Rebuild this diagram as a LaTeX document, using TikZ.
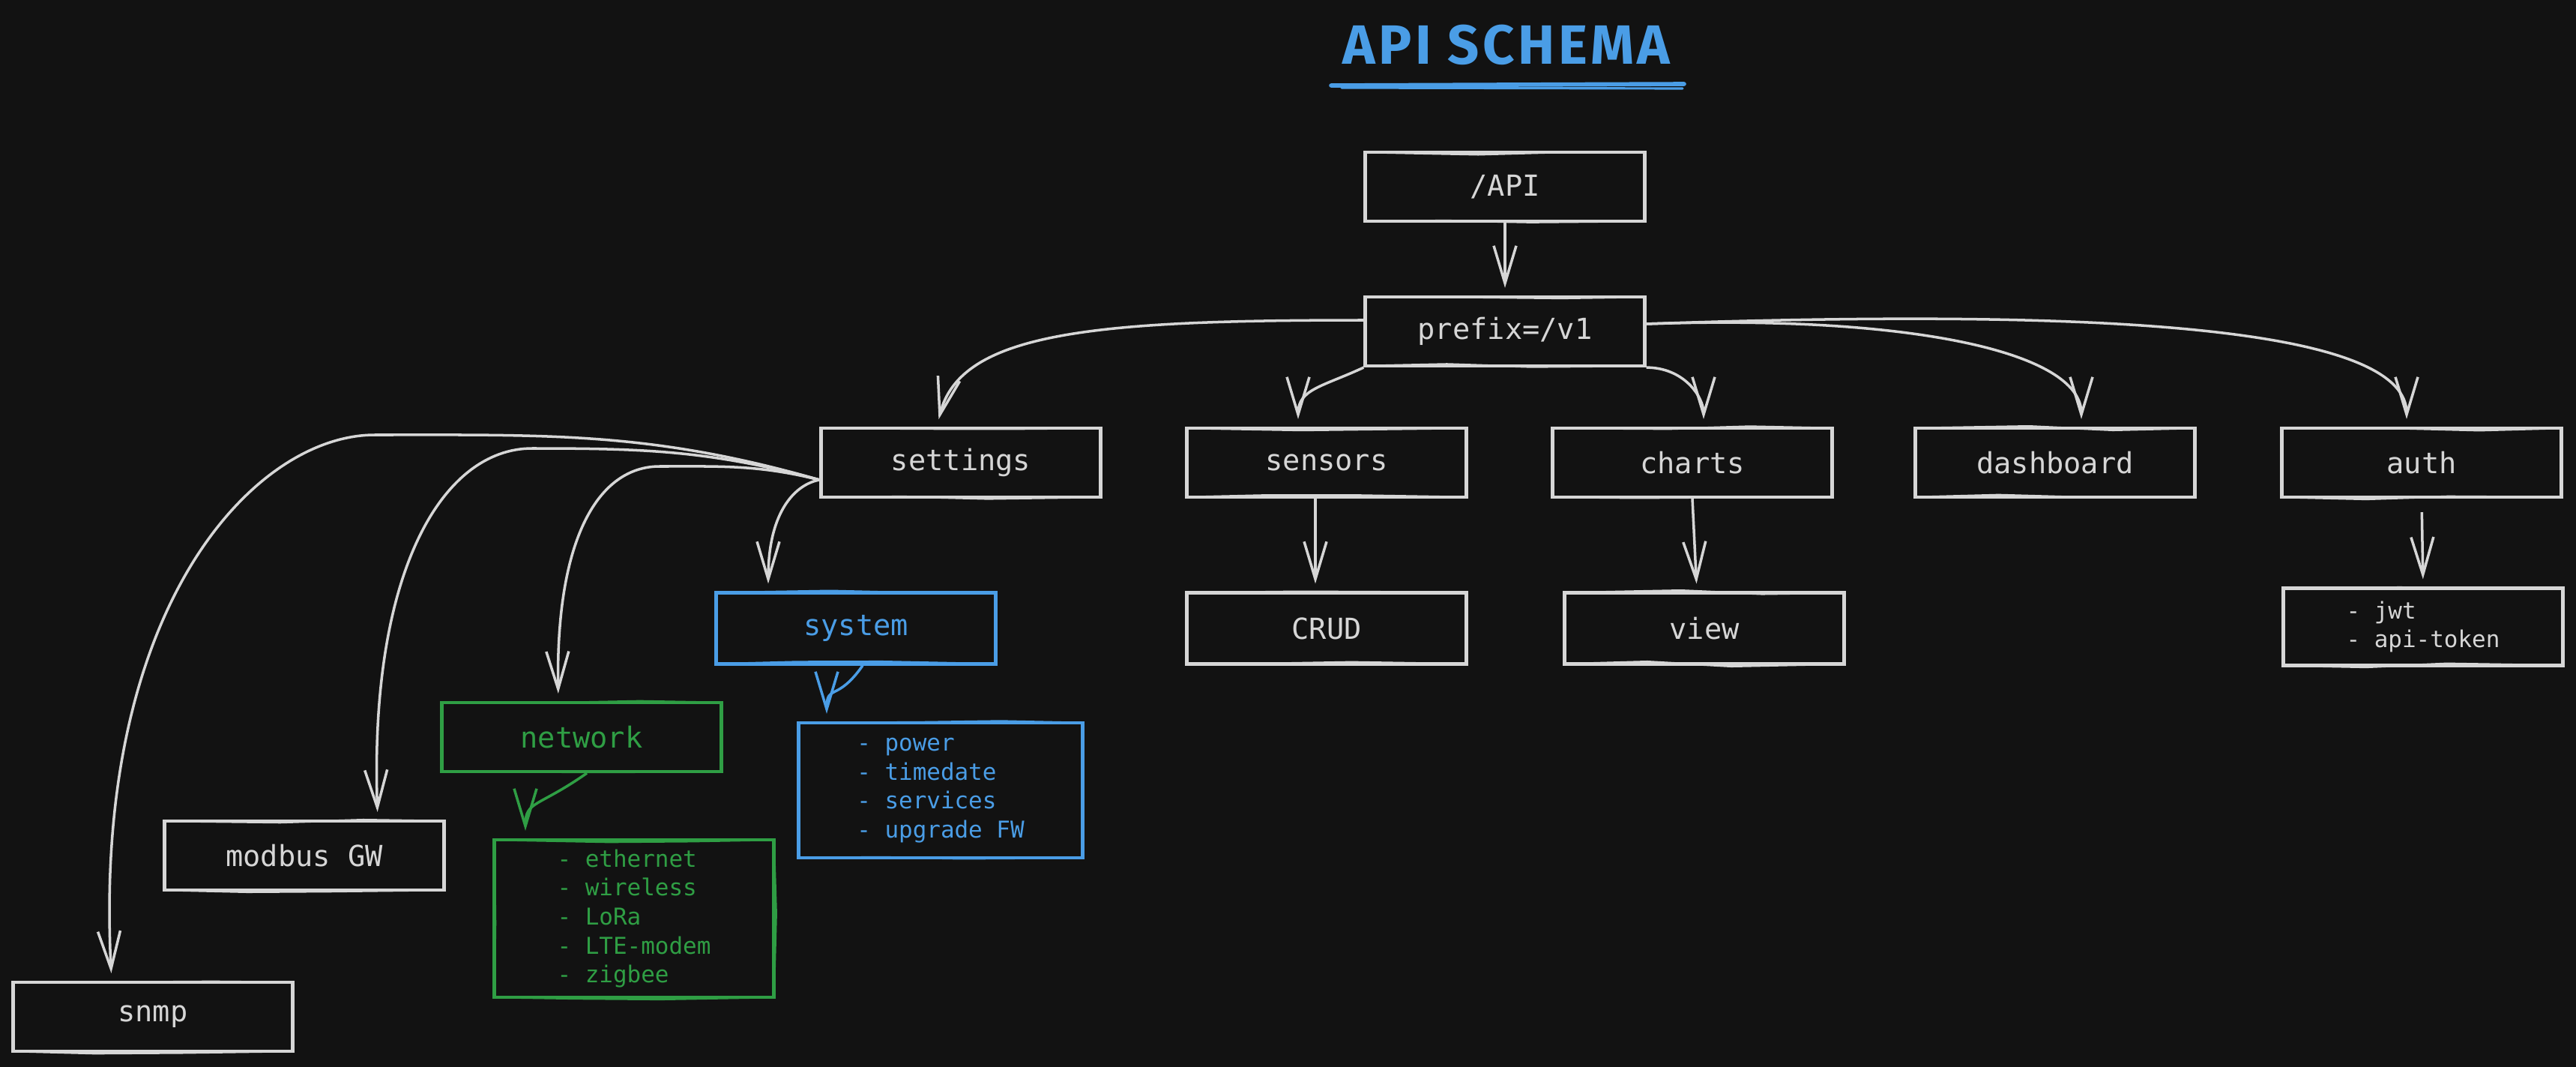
\documentclass[tikz,border=0pt]{standalone}
\usepackage{fontspec}
\setmonofont{DejaVu Sans Mono}
\newfontfamily\cimfont[LetterSpace=6]{Fira Sans}
\usetikzlibrary{arrows.meta,calc,decorations.pathmorphing}
\definecolor{hatter}{HTML}{121212}
\definecolor{vonal}{HTML}{D6D6D6}
\definecolor{kek}{HTML}{4A9DE6}
\definecolor{zold}{HTML}{2F9E44}
\pgfmathsetseed{7}
\tikzset{
  blokk/.style={draw=vonal,text=vonal,line width=1.2pt,minimum width=3.73cm,minimum height=0.92cm,
    inner sep=2pt,font=\ttfamily\fontsize{11}{13}\selectfont,
    postaction={draw,line width=0.8pt,decorate,decoration={random steps,segment length=1.1cm,amplitude=0.9pt}}},
  lista/.style={blokk,align=left,font=\ttfamily\fontsize{8.8}{11}\selectfont},
  kekb/.style={draw=kek,text=kek},
  zoldb/.style={draw=zold,text=zold},
  nyil/.style={vonal,line width=1pt,-{Straight Barb[length=5mm,width=3mm]},shorten >=1mm},
}

\begin{document}
\begin{tikzpicture}
  \fill[hatter] (0,0) rectangle (34.37,-14.23);
  \useasboundingbox (0,0) rectangle (34.37,-14.23);
  % cim
  \node[text=kek,font=\cimfont\bfseries\fontsize{21}{25}\selectfont] (cim) at (20.10,-0.60) {API SCHEMA};
  \draw[kek,line width=1.6pt,line cap=round] (17.76,-1.14) -- (22.47,-1.12);
  \draw[kek,line width=0.9pt,line cap=round] (17.90,-1.17) -- (22.45,-1.18);
  % fo ag
  \node[blokk] (api) at (20.08,-2.49) {/API};
  \node[blokk] (prefix) at (20.08,-4.42) {prefix=/v1};
  \node[blokk] (settings) at (12.82,-6.17) {settings};
  \node[blokk] (sensors) at (17.70,-6.17) {sensors};
  \node[blokk] (charts) at (22.58,-6.17) {charts};
  \node[blokk] (dashboard) at (27.42,-6.17) {dashboard};
  \node[blokk] (auth) at (32.31,-6.17) {auth};
  \node[blokk,minimum height=0.95cm] (crud) at (17.70,-8.38) {CRUD};
  \node[blokk,minimum height=0.95cm] (view) at (22.74,-8.38) {view};
  \node[lista,minimum height=1.03cm] (tokens) at (32.33,-8.36) {- jwt\\- api-token};
  % settings alatt
  \node[blokk,kekb,minimum height=0.95cm] (system) at (11.42,-8.38) {system};
  \node[lista,kekb,minimum width=3.79cm,minimum height=1.80cm] (syslist) at (12.55,-10.54)
    {- power\\- timedate\\- services\\- upgrade FW};
  \node[blokk,zoldb] (network) at (7.76,-9.83) {network};
  \node[lista,zoldb,minimum height=2.10cm] (netlist) at (8.46,-12.25)
    {- ethernet\\- wireless\\- LoRa\\- LTE-modem\\- zigbee};
  \node[blokk] (modbus) at (4.06,-11.41) {modbus GW};
  \node[blokk] (snmp) at (2.04,-13.56) {snmp};

  % nyilak
  \draw[nyil] (api) -- (prefix);
  \draw[nyil] ([yshift=0.15cm]prefix.west) to[out=180,in=76,out distance=3.6cm,in distance=1.3cm] ([xshift=-0.32cm]settings.north);
  \draw[nyil] (prefix.south west) to[out=205,in=90,out distance=0.6cm,in distance=0.5cm] ([xshift=-0.38cm]sensors.north);
  \draw[nyil] (prefix.south east) to[out=0,in=90,out distance=0.5cm,in distance=0.4cm] ([xshift=0.15cm]charts.north);
  \draw[nyil] ([yshift=0.1cm]prefix.east) to[out=2,in=90,out distance=3.5cm,in distance=1cm] ([xshift=0.35cm]dashboard.north);
  \draw[nyil] ([yshift=0.1cm]prefix.east) to[out=2,in=90,out distance=7cm,in distance=1.2cm] ([xshift=-0.2cm]auth.north);
  \draw[nyil] ([xshift=-0.15cm]sensors.south) -- ([xshift=-0.15cm]crud.north);
  \draw[nyil] (charts.south) -- ([xshift=-0.1cm]view.north);
  \draw[nyil,shorten <=0.18cm] (auth.south) -- (tokens.north);
  % settings legyezo
  \draw[nyil] ([yshift=-0.23cm]settings.west) to[out=190,in=90,out distance=0.3cm,in distance=1.1cm] ([xshift=-1.17cm]system.north);
  \draw[nyil] ([yshift=-0.23cm]settings.west) to[out=166,in=0] (8.8,-6.22)
    to[out=180,in=91,out distance=0.8cm,in distance=2.2cm] ([xshift=-0.31cm]network.north);
  \draw[nyil] ([yshift=-0.23cm]settings.west) to[out=165,in=0] (7.1,-5.98)
    to[out=180,in=92,out distance=1.2cm,in distance=3.3cm] ([xshift=0.98cm]modbus.north);
  \draw[nyil] ([yshift=-0.23cm]settings.west) to[out=164,in=0] (5.0,-5.80)
    to[out=180,in=93,out distance=1.6cm,in distance=5cm] ([xshift=-0.55cm]snmp.north);
  \draw[nyil,kek] ([xshift=0.09cm]system.south) to[out=235,in=90,out distance=0.6cm,in distance=0.5cm] ([xshift=-1.52cm]syslist.north);
  \draw[nyil,zold] ([xshift=0.07cm]network.south) to[out=215,in=90,out distance=0.8cm,in distance=0.5cm] ([xshift=-1.45cm]netlist.north);
\end{tikzpicture}
\end{document}
